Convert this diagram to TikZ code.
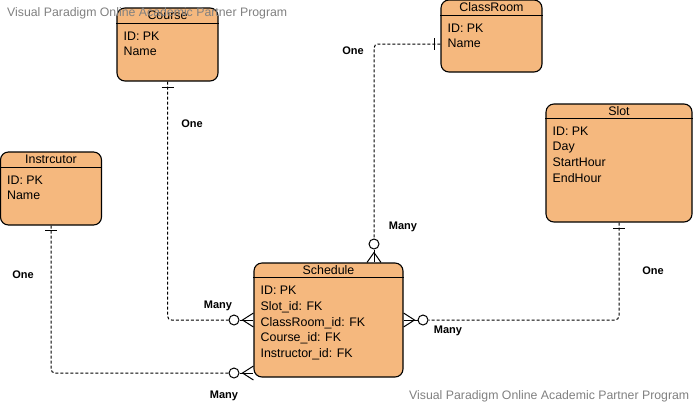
\documentclass[tikz,border=0pt]{standalone}
\usepackage{fontspec}
\setmainfont{Liberation Sans}
\usetikzlibrary{backgrounds}
\definecolor{entfill}{RGB}{245,184,126}
\definecolor{wmgray}{RGB}{128,128,128}

\begin{document}
\begin{tikzpicture}[x=1pt,y=-1pt,
    entity/.style={draw=black, fill=entfill, line width=1.1pt, rounded corners=8pt, inner sep=0pt},
    etitle/.style={font=\fontsize{12.4pt}{14pt}\selectfont, inner sep=0pt, anchor=base},
    attrs/.style={font=\fontsize{12.4pt}{15.75pt}\selectfont, align=left, inner sep=0pt, anchor=north west},
    card/.style={font=\fontsize{11pt}{13pt}\selectfont\bfseries, inner sep=0pt},
    rel/.style={dash pattern=on 3pt off 2pt, line width=1pt, rounded corners=4pt},
    circ/.style={circle, draw, fill=white, line width=1pt, minimum size=10pt, inner sep=0pt},
    foot/.style={line width=1pt},
    bar/.style={line width=1.4pt},
    wm/.style={font=\fontsize{12.3pt}{14pt}\selectfont, text=wmgray, inner sep=0pt, anchor=base west}]
  \useasboundingbox (0,0) rectangle (695,405);

  % entities
  \node[entity, minimum width=101pt, minimum height=73pt] (course) at (167.5,44.5) {};
  \node[etitle] at ([yshift=-12.3pt]course.north) {Course};
  \draw ([yshift=-16pt]course.north west) -- ([yshift=-16pt]course.north east);
  \node[attrs] at ([xshift=7pt,yshift=-24pt]course.north west) {ID: PK\\Name};

  \node[entity, minimum width=101pt, minimum height=72pt] (classroom) at (491.5,36) {};
  \node[etitle] at ([yshift=-12.3pt]classroom.north) {ClassRoom};
  \draw ([yshift=-16pt]classroom.north west) -- ([yshift=-16pt]classroom.north east);
  \node[attrs] at ([xshift=7pt,yshift=-24pt]classroom.north west) {ID: PK\\Name};

  \node[entity, minimum width=101pt, minimum height=73pt] (instr) at (51,188.5) {};
  \node[etitle] at ([yshift=-12.3pt]instr.north) {Instrcutor};
  \draw ([yshift=-16pt]instr.north west) -- ([yshift=-16pt]instr.north east);
  \node[attrs] at ([xshift=7pt,yshift=-24pt]instr.north west) {ID: PK\\Name};

  \node[entity, minimum width=146pt, minimum height=118pt] (slot) at (619,163) {};
  \node[etitle] at ([yshift=-12pt]slot.north) {Slot};
  \draw ([yshift=-15pt]slot.north west) -- ([yshift=-15pt]slot.north east);
  \node[attrs] at ([xshift=7pt,yshift=-23pt]slot.north west) {ID: PK\\Day\\StartHour\\EndHour};

  \node[entity, minimum width=149pt, minimum height=114pt] (schedule) at (328.5,320) {};
  \node[etitle] at ([yshift=-12pt]schedule.north) {Schedule};
  \draw ([yshift=-15pt]schedule.north west) -- ([yshift=-15pt]schedule.north east);
  \node[attrs] at ([xshift=7pt,yshift=-23.5pt]schedule.north west)
    {ID: PK\\Slot\_id: FK\\ClassRoom\_id: FK\\Course\_id: FK\\Instructor\_id: FK};

  % circles of the many ends
  \node[circ] (ccou) at (234,320) {};
  \node[circ] (cins) at (234,373) {};
  \node[circ] (ccls) at (374,244) {};
  \node[circ] (cslo) at (423,320) {};

  % connectors
  \begin{scope}[on background layer]
    \draw[rel] (course.south) |- (ccou.west);
    \draw[rel] (instr.south) |- (cins.west);
    \draw[rel] ([yshift=-8pt]classroom.west) -| (ccls.north);
    \draw[rel] (slot.south) |- (cslo.east);

    \coordinate (fcou) at ([xshift=3pt]ccou.east);
    \draw[foot] (ccou.east) -- (schedule.west |- ccou);
    \draw[foot] ([yshift=7pt]schedule.west |- ccou) -- (fcou) -- ([yshift=-7pt]schedule.west |- ccou);

    \coordinate (fins) at ([xshift=3pt]cins.east);
    \draw[foot] (cins.east) -- (schedule.west |- cins);
    \draw[foot] ([yshift=7pt]schedule.west |- cins) -- (fins) -- ([yshift=-7pt]schedule.west |- cins);

    \coordinate (fcls) at ([yshift=-3pt]ccls.south);
    \draw[foot] (ccls.south) -- (ccls |- schedule.north);
    \draw[foot] ([xshift=-7pt]ccls |- schedule.north) -- (fcls) -- ([xshift=7pt]ccls |- schedule.north);

    \coordinate (fslo) at ([xshift=-3pt]cslo.west);
    \draw[foot] (cslo.west) -- (schedule.east |- cslo);
    \draw[foot] ([yshift=7pt]schedule.east |- cslo) -- (fslo) -- ([yshift=-7pt]schedule.east |- cslo);
  \end{scope}

  % one ends
  \draw[bar] ([xshift=-6pt,yshift=-6pt]course.south) -- ([xshift=6pt,yshift=-6pt]course.south);
  \draw[bar] ([xshift=-6pt,yshift=-5pt]instr.south) -- ([xshift=6pt,yshift=-5pt]instr.south);
  \draw[bar] ([xshift=-6pt,yshift=-6pt]slot.south) -- ([xshift=6pt,yshift=-6pt]slot.south);
  \draw[bar] ([xshift=-6pt,yshift=-2pt]classroom.west) -- ([xshift=-6pt,yshift=-14pt]classroom.west);

  % cardinalities
  \node[card] (one-cou) at (192,124) {One};
  \node[card] (one-cls) at (353,51) {One};
  \node[card] (one-ins) at (23,275) {One};
  \node[card] (one-slo) at (653,271) {One};
  \node[card] (many-cou) at (218,306) {Many};
  \node[card] (many-ins) at (224,396) {Many};
  \node[card] (many-cls) at (403,227) {Many};
  \node[card] (many-slo) at (448,331) {Many};

  % watermarks
  \node[wm] (wm-top) at (7,16.3) {Visual Paradigm Online Academic Partner Program};
  \node[wm] (wm-bot) at (409,399.3) {Visual Paradigm Online Academic Partner Program};
\end{tikzpicture}
\end{document}
